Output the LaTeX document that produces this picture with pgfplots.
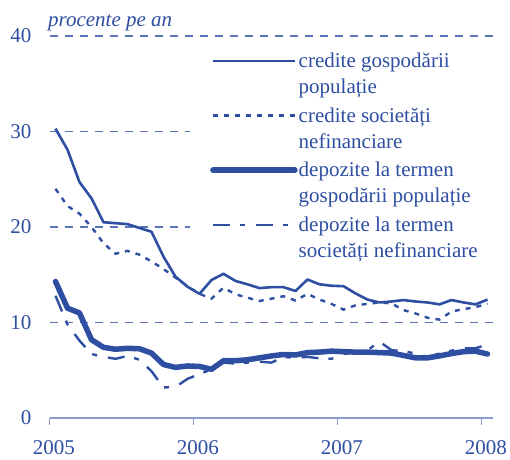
\documentclass[border=0pt]{standalone}
\usepackage{fontspec}
\setmainfont{Liberation Serif}
\usepackage{pgfplots}
\usepackage{pgfplotstable}
\pgfplotsset{compat=1.18}
\definecolor{bnr}{RGB}{46,78,162}
\definecolor{gridc}{RGB}{90,115,185}
\definecolor{axc}{RGB}{140,155,205}
\newcommand\lstrut{\rule[-7.8pt]{0pt}{26pt}}

\pgfplotstableread{
m a b c d
0 30.3 24.0 14.3 12.8
1 28.1 22.2 11.5 9.8
2 24.7 21.4 11.0 8.1
3 23.0 20.0 8.2 6.7
4 20.5 18.3 7.4 6.4
5 20.4 17.2 7.2 6.2
6 20.3 17.5 7.3 6.5
7 19.9 17.1 7.25 6.1
8 19.5 16.4 6.8 4.9
9 16.9 15.6 5.6 3.2
10 14.8 14.7 5.3 3.25
11 13.75 13.8 5.45 4.1
12 13.0 13.0 5.4 4.6
13 14.45 12.5 5.1 5.1
14 15.1 13.65 6.0 5.8
15 14.35 12.95 6.0 5.7
16 14.0 12.6 6.1 5.8
17 13.6 12.25 6.3 5.9
18 13.7 12.5 6.5 5.8
19 13.7 12.75 6.65 6.4
20 13.3 12.3 6.6 6.3
21 14.5 13.0 6.85 6.4
22 14.0 12.4 6.9 6.25
23 13.85 11.95 7.0 6.2
24 13.8 11.35 6.95 6.7
25 13.05 11.8 6.9 6.9
26 12.4 11.95 6.9 7.1
27 12.1 12.1 6.85 8.0
28 12.2 12.0 6.8 7.1
29 12.35 11.3 6.55 7.0
30 12.2 10.95 6.3 6.75
31 12.1 10.5 6.3 6.4
32 11.9 10.3 6.5 6.75
33 12.35 11.15 6.75 7.05
34 12.1 11.4 6.95 7.3
35 11.9 11.6 7.0 7.3
36 12.4 12.0 6.7 7.7
}\datatab

\begin{document}
\begin{tikzpicture}
\begin{axis}[
  scale only axis, width=443.5pt, height=382pt,
  xmin=-0.5, xmax=36.46, ymin=0, ymax=40,
  axis lines*=left,
  y axis line style={draw=none},
  x axis line style={draw=axc, line width=1.6pt},
  xtick={-0.5,11.5,23.5,35.5}, xticklabels={2005,2006,2007,2008},
  ytick={0,10,20,30,40},
  xtick style={draw=axc, line width=1.2pt}, ytick style={draw=none},
  tick align=outside, major tick length=7pt,
  ymajorgrids, grid style={draw=gridc, line width=1.1pt, dash pattern=on 8pt off 7pt},
  tick label style={font=\fontsize{21}{25}\selectfont, text=bnr},
  /pgf/number format/assume math mode=true,
  yticklabel style={anchor=east, inner sep=0pt, xshift=-11pt},
  xticklabel style={anchor=north, inner sep=0pt, xshift=4.5pt, yshift=-15.5pt},
  no marks,
  legend image code/.code={\draw[#1] (0pt,32.5pt) -- (82pt,32.5pt);},
  legend style={at={(0.3168,0.970)}, anchor=north west, fill=white, draw=none,
    inner xsep=20pt, inner ysep=0pt, column sep=1pt, row sep=5.6pt,
    font=\fontsize{21}{26}\selectfont, text=bnr,
    nodes={inner xsep=0pt, inner ysep=1.65pt, anchor=base west, align=left}},
]
\addplot[bnr, line width=2.6pt, line join=round] table[x=m,y=a]{\datatab};
\addlegendentry{credite gospodării\lstrut\\populație\lstrut}
\addplot[bnr, line width=2.4pt, dash pattern=on 5pt off 6pt] table[x=m,y=b]{\datatab};
\addlegendentry{credite societăți\lstrut\\nefinanciare\lstrut}
\addplot[bnr, line width=5.5pt, line join=round, line cap=round] table[x=m,y=c]{\datatab};
\addlegendentry{depozite la termen\lstrut\\gospodării populație\lstrut}
\addplot[bnr, line width=2.4pt, dash pattern=on 17pt off 10pt on 5pt off 11pt] table[x=m,y=d]{\datatab};
\addlegendentry{depozite la termen\lstrut\\societăți nefinanciare\lstrut}
\end{axis}
\node[anchor=base west, inner sep=0pt, font=\itshape\fontsize{21}{25}\selectfont, text=bnr] at (-1.5pt,391.3pt) {procente pe an};
\useasboundingbox (-49.5pt,-41pt) rectangle (460.5pt,418pt);
\end{tikzpicture}
\end{document}
